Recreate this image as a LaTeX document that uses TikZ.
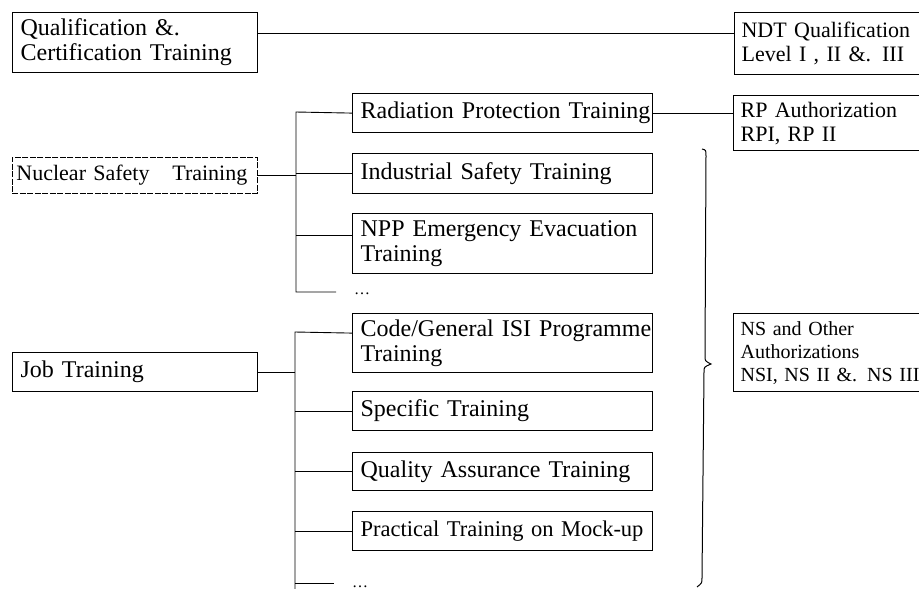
\documentclass[tikz,border=0pt]{standalone}
\usepackage{fontspec}
\setmainfont{Liberation Serif}
\tikzset{
  box/.style={draw, line width=1.2pt, align=left, anchor=north west,
    inner xsep=8pt, inner ysep=0pt, font=\fontsize{24}{25}\selectfont},
  sidebox/.style={box, inner xsep=7pt, font=\fontsize{22}{24}\selectfont},
  dashbox/.style={box, line width=0.9pt, dash pattern=on 6pt off 1.5pt},
  link/.style={line width=0.9pt},
  dotsnode/.style={inner sep=0pt, anchor=base west, font=\fontsize{16}{16}\selectfont}
}
\begin{document}
\begin{tikzpicture}[x=1pt, y=-1pt]
\useasboundingbox (0,0) rectangle (919,589);

% left column
\node[box, text width=229pt, minimum height=60pt] (qc) at (12,12)
  {\mbox{Qualification \&.}\\\mbox{Certification Training}};
\node[dashbox, inner xsep=4pt, text width=237pt, minimum height=36pt, font=\fontsize{22}{24}\selectfont] (nst) at (12,157)
  {\mbox{Nuclear Safety\hspace{0.7em} Training}};
\node[box, text width=229pt, minimum height=39pt] (job) at (12,352)
  {\mbox{Job Training}};

% middle column
\node[box, text width=284pt, minimum height=39pt] (rad) at (352,93)
  {\mbox{Radiation Protection Training}};
\node[box, text width=284pt, minimum height=40pt] (ind) at (352,153)
  {\mbox{Industrial Safety Training}};
\node[box, text width=284pt, minimum height=60pt] (npp) at (352,213)
  {\mbox{NPP Emergency Evacuation}\\\mbox{Training}};
\node[box, text width=284pt, minimum height=59pt] (code) at (352,313)
  {\mbox{Code/General ISI Programme}\\\mbox{Training}};
\node[box, text width=284pt, minimum height=39pt] (spec) at (352,391)
  {\mbox{Specific Training}};
\node[box, text width=284pt, minimum height=38pt] (qa) at (352,452)
  {\mbox{Quality Assurance Training}};
\node[box, text width=284pt, minimum height=39pt, font=\fontsize{22.5}{24}\selectfont] (prac) at (352,511)
  {\mbox{Practical Training on Mock-up}};

% right column (boxes run past the right edge)
\node[sidebox, text width=230pt, minimum height=62pt] (ndt) at (734,12)
  {\mbox{NDT Qualification}\\\mbox{Level I , II \&. III}};
\node[sidebox, text width=230pt, minimum height=55pt] (rp) at (733,95)
  {\mbox{RP Authorization}\\\mbox{RPI, RP II}};
\node[sidebox, text width=230pt, minimum height=78pt, font=\fontsize{20}{23}\selectfont] (ns) at (733,313)
  {\mbox{NS and Other}\\\mbox{Authorizations}\\\mbox{NSI, NS II \&. NS III}};

% trunk lines
\coordinate (na) at (296,112);
\coordinate (nb) at (296,292);
\coordinate (nc) at (336,292);
\coordinate (ja) at (295,332);
\coordinate (jb) at (295,592);
\coordinate (jc) at (295,583);
\coordinate (jd) at (334,583);

\node[dotsnode] (ndots) at (354,294) {\dots};
\node[dotsnode] (jdots) at (352,587) {\dots};

% connectors
\draw[link] ([yshift=9pt]qc.east) -- ([yshift=9pt]qc.east -| ndt.west);
\draw[link] (rad.east) -- (rad.east -| rp.west);

\draw[link] (rad.west) -- (na) -- (nb) -- (nc);
\draw[link] (nst.east) -- (nst.east -| na);
\draw[link] (ind.west) -- (ind.west -| na);
\draw[link] ([yshift=8pt]npp.west) -- ([yshift=8pt]npp.west -| na);

\draw[link] ([yshift=10pt]code.west) -- (ja) -- (jb);
\draw[link] (jc) -- (jd);
\draw[link] (job.east) -- (job.east -| ja);
\draw[link] (spec.west) -- (spec.west -| ja);
\draw[link] (qa.west) -- (qa.west -| ja);
\draw[link] (prac.west) -- (prac.west -| ja);

% brace grouping the safety and job trainings
\draw[line width=1pt] (702,149) .. controls (706,150) .. (706,156)
  -- (705,356) .. controls (705,361) .. (711,364)
  .. controls (704,367) .. (704,372)
  -- (702,578) .. controls (702,583) .. (697,587);
\end{tikzpicture}
\end{document}
